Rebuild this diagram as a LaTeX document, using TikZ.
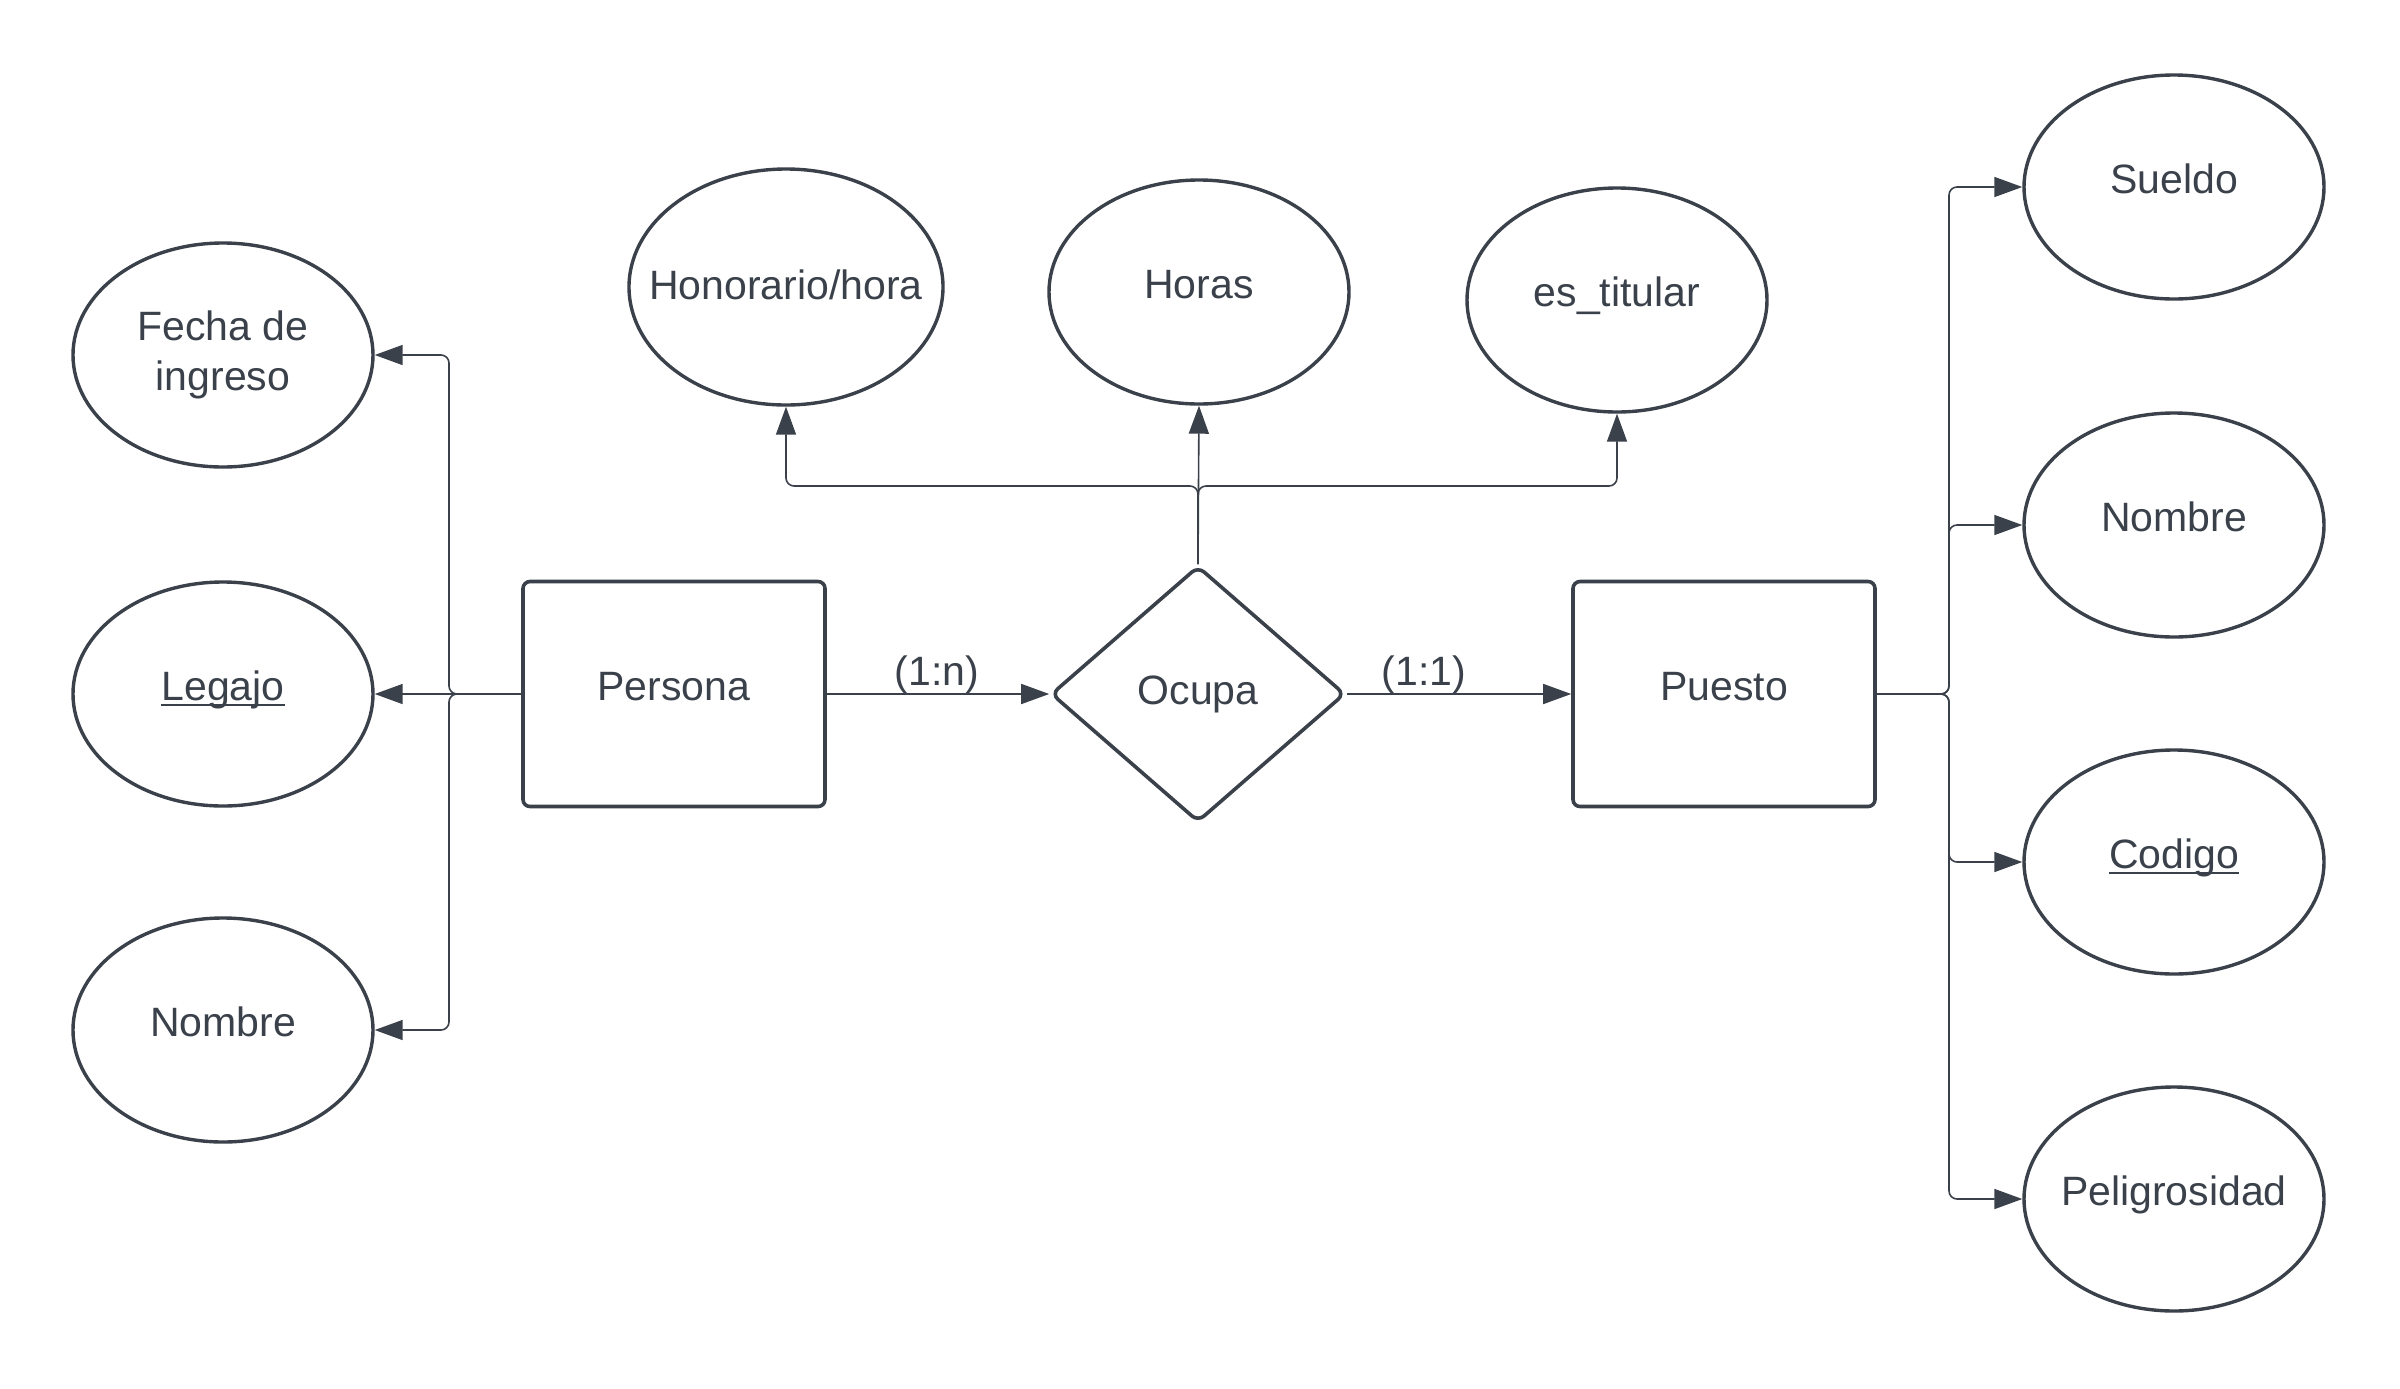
\documentclass[tikz,border=0pt]{standalone}
\usepackage{fontspec}
\setmainfont{Liberation Sans}
\usetikzlibrary{shapes.geometric,arrows.meta}
\definecolor{ink}{HTML}{3A414A}
\newcommand{\clave}[1]{\setbox0\hbox{#1}\rlap{\rule[-3.2pt]{\wd0}{1.2pt}}\box0}

\begin{document}
\begin{tikzpicture}[x=0.5pt,y=-0.5pt,
   font=\fontsize{20.5}{25}\selectfont,
   texto/.style={text=ink,text height=0.75em,text depth=0.25em,yshift=-0.5pt},
   entidad/.style={draw=ink,line width=1.8pt,rounded corners=3.5pt,minimum width=151pt,
      minimum height=112.5pt,inner sep=0pt,label={[texto]center:#1}},
   relacion/.style={draw=ink,line width=1.8pt,diamond,rounded corners=4pt,minimum width=147pt,
      minimum height=128pt,inner sep=0pt,label={[texto,yshift=-2pt]center:#1}},
   atributo/.style={draw=ink,line width=1.7pt,ellipse,minimum width=150pt,
      minimum height=112pt,inner sep=0pt,label={[texto]center:#1}},
   enlace/.style={draw=ink,line width=0.8pt,rounded corners=4pt,
      -{Triangle[length=14pt,width=10pt]}}]
   \useasboundingbox (0,0) rectangle (2400,1388);

   \path (674,694) node[entidad=Persona] (persona) {};
   \path (1198,694) node[relacion=Ocupa] (ocupa) {};
   \path (1724,694) node[entidad=Puesto] (puesto) {};

   \path (223,355) node[atributo={},label={[text=ink,align=center]center:Fecha de\\ingreso}] (fecha) {};
   \path (223,694) node[atributo=\clave{Legajo}] (legajo) {};
   \path (223,1030) node[atributo=Nombre] (nombreP) {};

   \path (786,287) node[atributo={},minimum width=157pt,minimum height=118pt,
      label={[texto,yshift=-3pt]center:Honorario/hora}] (honorario) {};
   \path (1199,292) node[atributo=Horas] (horas) {};
   \path (1617,300) node[atributo=es\_titular] (titular) {};

   \path (2174,187) node[atributo=Sueldo] (sueldo) {};
   \path (2174,525) node[atributo=Nombre] (nombreQ) {};
   \path (2174,862) node[atributo=\clave{Codigo}] (codigo) {};
   \path (2174,1199) node[atributo=Peligrosidad] (peligro) {};

   \path (937,675) node[text=ink] (card1) {(1:n)};
   \path (1424,675) node[text=ink] (card2) {(1:1)};

   \coordinate (pj) at (449,694);
   \coordinate (tj) at (1198,486);
   \coordinate (qj) at (1949,694);

   \draw[enlace] (persona.east) -- (ocupa.west);
   \draw[enlace] (ocupa.east) -- (puesto.west);

   \draw[enlace] (persona.west) -- (pj) |- (fecha.east);
   \draw[enlace] (persona.west) -- (legajo.east);
   \draw[enlace] (persona.west) -- (pj) |- (nombreP.east);

   \draw[enlace] (ocupa.north) -- (tj) -| (honorario.south);
   \draw[enlace] (ocupa.north) -- (horas.south);
   \draw[enlace] (ocupa.north) -- (tj) -| (titular.south);

   \draw[enlace] (puesto.east) -- (qj) |- (sueldo.west);
   \draw[enlace] (puesto.east) -- (qj) |- (nombreQ.west);
   \draw[enlace] (puesto.east) -- (qj) |- (codigo.west);
   \draw[enlace] (puesto.east) -- (qj) |- (peligro.west);
\end{tikzpicture}
\end{document}
